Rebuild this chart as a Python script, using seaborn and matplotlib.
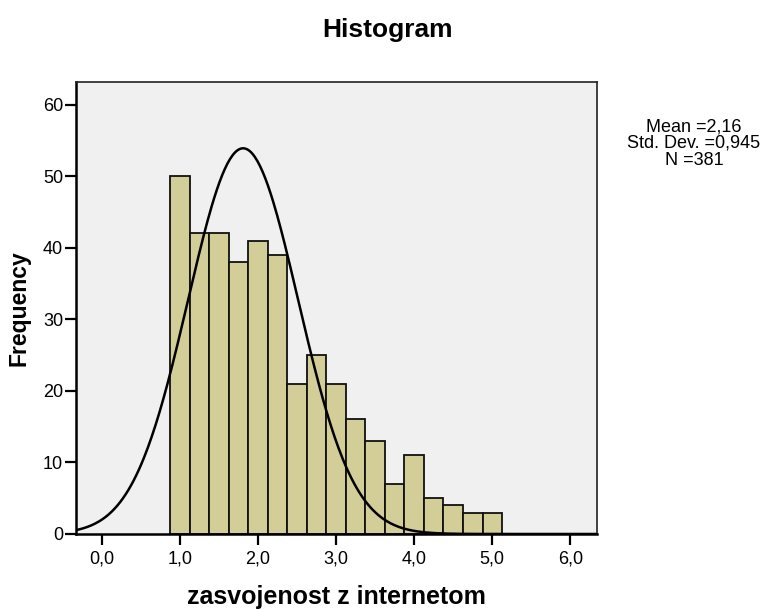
import numpy as np
import pandas as pd
import matplotlib
matplotlib.use("Agg")
import matplotlib.pyplot as plt
import seaborn as sns

# ---- data ----
bin_start = 0.875
bin_width = 0.25
counts = [50, 42, 42, 38, 41, 39, 21, 25, 21, 16, 13, 7, 11, 5, 4, 3, 3]
x_ticks = [0, 1, 2, 3, 4, 5, 6]
x_tick_labels = ["0,0", "1,0", "2,0", "3,0", "4,0", "5,0", "6,0"]
y_ticks = [0, 10, 20, 30, 40, 50, 60]
stats_lines = ["Mean =2,16", "Std. Dev. =0,945", "N =381"]
n_total = 381
curve_mu = 1.81      # position of the drawn normal curve's peak
curve_sd = 0.705     # spread of the drawn normal curve

sns.set_theme(style="white")
plt.rcParams['font.family'] = ['Liberation Sans', 'DejaVu Sans']
plt.rcParams['text.color'] = 'black'
plt.rcParams['axes.labelcolor'] = 'black'

edges = bin_start + bin_width * np.arange(len(counts) + 1)
centers = (edges[:-1] + edges[1:]) / 2
df = pd.DataFrame({"x": centers, "w": counts})

fig = plt.figure(figsize=(7.64, 6.10), dpi=100)
ax = fig.add_axes([0.0991, 0.1246, 0.782 - 0.0991, 0.866 - 0.1246])
ax.set_facecolor("#F0F0F0")

sns.histplot(data=df, x="x", weights="w", binwidth=bin_width,
             binrange=(edges[0], edges[-1]), ax=ax,
             color="#D3CE97", edgecolor="#111111", linewidth=1.3, alpha=1.0)

xmin, xmax = -0.333, 6.346
xs = np.linspace(xmin, xmax, 400)
ys = n_total * bin_width * np.exp(-0.5 * ((xs - curve_mu) / curve_sd) ** 2) / (curve_sd * np.sqrt(2 * np.pi))
sns.lineplot(x=xs, y=ys, ax=ax, color="black", linewidth=1.8)

ax.set_xlim(xmin, xmax)
ax.set_ylim(0, 63.2)
ax.set_xticks(x_ticks)
ax.set_xticklabels(x_tick_labels)
ax.set_yticks(y_ticks)
ax.tick_params(axis="both", which="major", direction="out", length=8, width=1.6,
               color="black", labelsize=13, labelcolor="black",
               bottom=True, left=True, top=False, right=False)
ax.tick_params(axis="x", pad=4)
ax.tick_params(axis="y", pad=1)

for side in ["left", "bottom"]:
    ax.spines[side].set_linewidth(1.8)
    ax.spines[side].set_color("black")
for side in ["right", "top"]:
    ax.spines[side].set_visible(True)
    ax.spines[side].set_linewidth(1.2)
    ax.spines[side].set_color("#222222")

ax.set_xlabel("zasvojenost z internetom", fontsize=18, fontweight="bold", labelpad=12.5)
ax.set_ylabel("Frequency", fontsize=16.5, fontweight="bold", labelpad=9)

fig.text(388 / 764, 1 - 30 / 610, "Histogram", ha="center", va="center",
         fontsize=19, fontweight="bold")
fig.text(694 / 764, 1 - 143.5 / 610, "\n".join(stats_lines), ha="center", va="center",
         fontsize=13, linespacing=1.0)

fig.savefig("out.png", dpi=100)
